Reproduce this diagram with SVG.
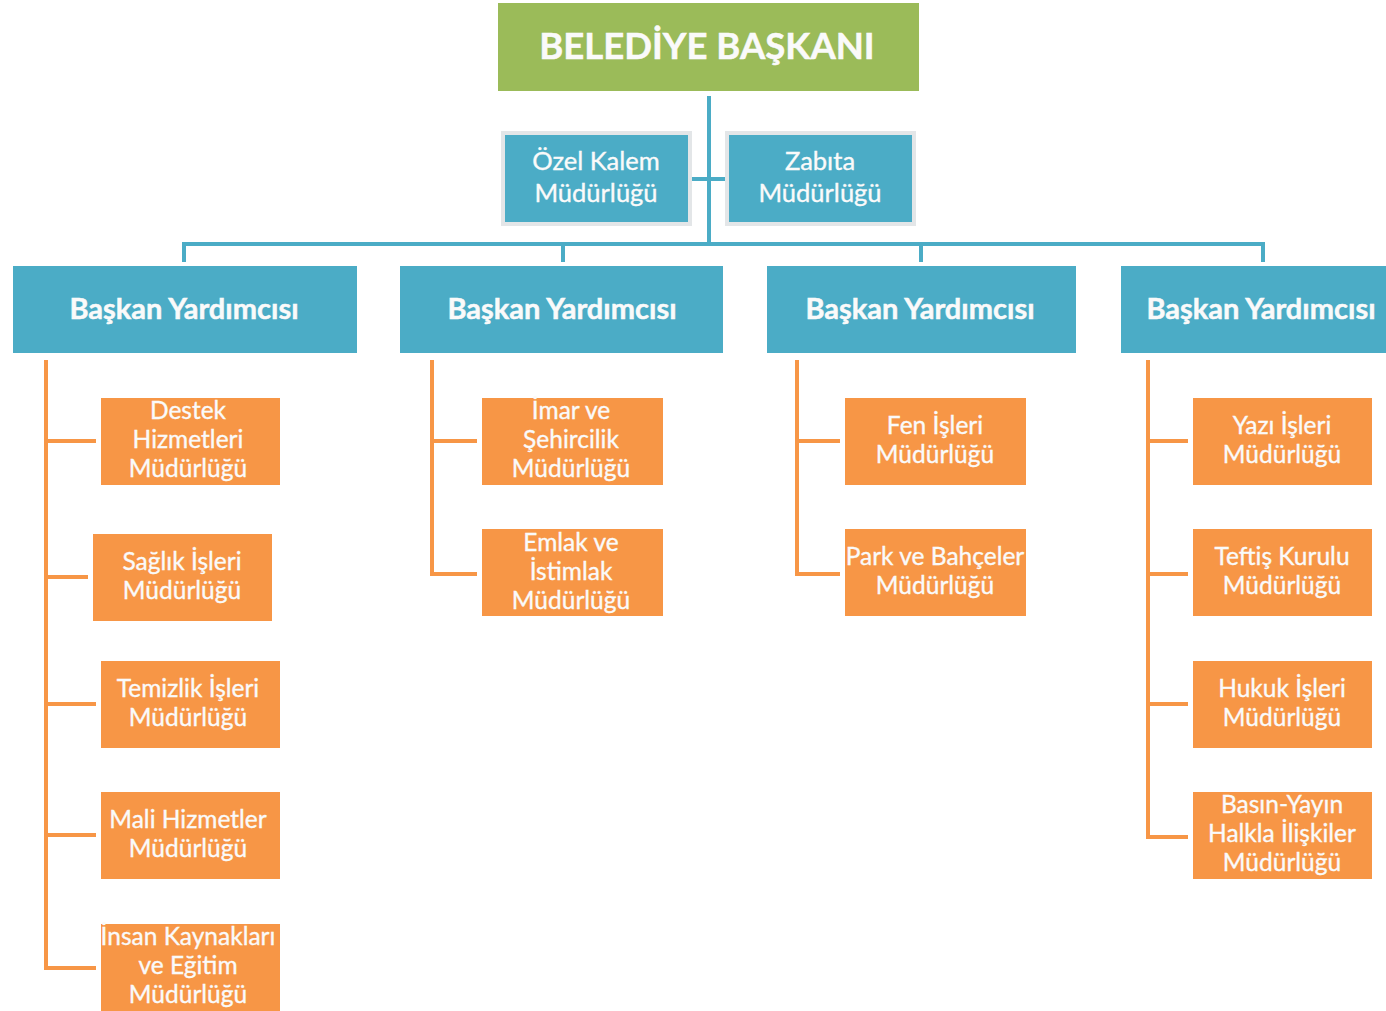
<svg xmlns="http://www.w3.org/2000/svg" width="1386" height="1011" viewBox="0 0 1386 1011">
<style>
.g{fill:#9BBB59}
.b{fill:#4BACC6}
.o{fill:#F79646}
.t{font-family:Lato,"Liberation Sans",sans-serif;fill:#FAFAFA;text-anchor:middle;stroke:#FAFAFA;stroke-width:0.35}
.s{font-size:25.5px}
.m{font-size:24.5px}
.tb{font-weight:bold;stroke-width:0.5}
.lb{stroke:#4BACC6;stroke-width:4;fill:none}
.lo{stroke:#F79646;stroke-width:4;fill:none}
.sh{fill:none;stroke:#E3E6E8;stroke-width:4}
</style>
<rect width="1386" height="1011" fill="#fff"/>
<g id="connectors">
<path class="lb" d="M709 96V243M692 179H726M184 262V244H1263V262M563 244V262M921 244V262"/>
<path class="lo" d="M46 360V968H96M46 441H96M46 577H88M46 704H96M46 835H96"/>
<path class="lo" d="M432 360V574H477M432 441H477"/>
<path class="lo" d="M797 360V574H840M797 441H840"/>
<path class="lo" d="M1148 360V837H1188M1148 441H1188M1148 574H1188M1148 704H1188"/>
</g>
<g id="baskan"><rect class="g" x="498" y="3" width="421" height="88"/><text class="t tb" x="707" y="59" font-size="36.5">BELEDİYE BAŞKANI</text></g>
<g id="ozel"><rect class="sh" x="503" y="133" width="187" height="91"/><rect class="b" x="505" y="135" width="183" height="87"/><text class="t s" x="596" y="170">Özel Kalem</text><text class="t s" x="596" y="202">Müdürlüğü</text></g>
<g id="zabita"><rect class="sh" x="727" y="133" width="187" height="91"/><rect class="b" x="729" y="135" width="183" height="87"/><text class="t s" x="820" y="170">Zabıta</text><text class="t s" x="820" y="202">Müdürlüğü</text></g>
<g id="by1"><rect class="b" x="13" y="266" width="344" height="87"/><text class="t tb" x="184" y="319" font-size="29">Başkan Yardımcısı</text></g>
<g id="by2"><rect class="b" x="400" y="266" width="323" height="87"/><text class="t tb" x="562" y="319" font-size="29">Başkan Yardımcısı</text></g>
<g id="by3"><rect class="b" x="767" y="266" width="309" height="87"/><text class="t tb" x="920" y="319" font-size="29">Başkan Yardımcısı</text></g>
<g id="by4"><rect class="b" x="1121" y="266" width="265" height="87"/><text class="t tb" x="1261" y="319" font-size="29">Başkan Yardımcısı</text></g>
<g id="destek"><rect class="o" x="101" y="398" width="179" height="87"/><text class="t m" x="188" y="419">Destek</text><text class="t m" x="188" y="448">Hizmetleri</text><text class="t m" x="188" y="477">Müdürlüğü</text></g>
<g id="saglik"><rect class="o" x="93" y="534" width="179" height="87"/><text class="t m" x="182" y="570">Sağlık İşleri</text><text class="t m" x="182" y="599">Müdürlüğü</text></g>
<g id="temizlik"><rect class="o" x="101" y="661" width="179" height="87"/><text class="t m" x="188" y="697">Temizlik İşleri</text><text class="t m" x="188" y="726">Müdürlüğü</text></g>
<g id="mali"><rect class="o" x="101" y="792" width="179" height="87"/><text class="t m" x="188" y="828">Mali Hizmetler</text><text class="t m" x="188" y="857">Müdürlüğü</text></g>
<g id="insan"><rect class="o" x="101" y="924" width="179" height="87"/><text class="t m" x="188" y="945">İnsan Kaynakları</text><text class="t m" x="188" y="974">ve Eğitim</text><text class="t m" x="188" y="1003">Müdürlüğü</text></g>
<g id="imar"><rect class="o" x="482" y="398" width="181" height="87"/><text class="t m" x="571" y="419">İmar ve</text><text class="t m" x="571" y="448">Şehircilik</text><text class="t m" x="571" y="477">Müdürlüğü</text></g>
<g id="emlak"><rect class="o" x="482" y="529" width="181" height="87"/><text class="t m" x="571" y="551">Emlak ve</text><text class="t m" x="571" y="580">İstimlak</text><text class="t m" x="571" y="609">Müdürlüğü</text></g>
<g id="fen"><rect class="o" x="845" y="398" width="181" height="87"/><text class="t m" x="935" y="434">Fen İşleri</text><text class="t m" x="935" y="463">Müdürlüğü</text></g>
<g id="park"><rect class="o" x="845" y="529" width="181" height="87"/><text class="t m" x="935" y="565">Park ve Bahçeler</text><text class="t m" x="935" y="594">Müdürlüğü</text></g>
<g id="yazi"><rect class="o" x="1193" y="398" width="179" height="87"/><text class="t m" x="1282" y="434">Yazı İşleri</text><text class="t m" x="1282" y="463">Müdürlüğü</text></g>
<g id="teftis"><rect class="o" x="1193" y="529" width="179" height="87"/><text class="t m" x="1282" y="565">Teftiş Kurulu</text><text class="t m" x="1282" y="594">Müdürlüğü</text></g>
<g id="hukuk"><rect class="o" x="1193" y="661" width="179" height="87"/><text class="t m" x="1282" y="697">Hukuk İşleri</text><text class="t m" x="1282" y="726">Müdürlüğü</text></g>
<g id="basin"><rect class="o" x="1193" y="792" width="179" height="87"/><text class="t m" x="1282" y="813">Basın-Yayın</text><text class="t m" x="1282" y="842">Halkla İlişkiler</text><text class="t m" x="1282" y="871">Müdürlüğü</text></g>
</svg>
